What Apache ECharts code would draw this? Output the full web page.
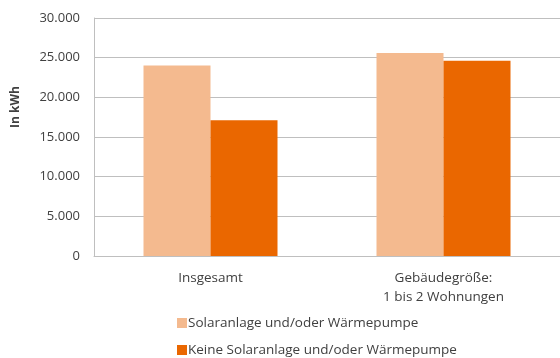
<!DOCTYPE html>
<html>
<head>
<meta charset="utf-8">
<script src="https://cdn.jsdelivr.net/npm/echarts@6/dist/echarts.min.js"></script>
<style>
  html, body { margin: 0; padding: 0; background: #fff; }
  #chart { width: 560px; height: 358px; }
</style>
</head>
<body>
<div id="chart"></div>
<script>
// Stromverbrauch in kWh nach Ausstattung
const categories = ['Insgesamt', 'Gebäudegröße:\n1 bis 2 Wohnungen'];
const seriesNames = ['Solaranlage und/oder Wärmepumpe', 'Keine Solaranlage und/oder Wärmepumpe'];
const solarValues = [24000, 25600];     // Solaranlage und/oder Wärmepumpe
const noSolarValues = [17100, 24600];   // Keine Solaranlage und/oder Wärmepumpe
const yTicks = [0, 5000, 10000, 15000, 20000, 25000, 30000];

const FONT = '"Open Sans", sans-serif';
const TEXT = '#404040';
const fmt = v => v === 0 ? '0' : String(v).replace(/\B(?=(\d{3})+(?!\d))/g, '.');

// one legend row per series, stacked below the axis labels
const legendRow = (name, top) => ({
  orient: 'horizontal',
  left: 177,
  top: top,
  padding: 0,
  itemWidth: 10,
  itemHeight: 10,
  icon: 'rect',
  textStyle: { color: TEXT, fontSize: 13.5, fontFamily: FONT, padding: [0, 0, 0, -4] },
  data: [name]
});

const chart = echarts.init(document.getElementById('chart'), null, { renderer: 'canvas' });
chart.setOption({
  animation: false,
  textStyle: { fontFamily: FONT },
  grid: { left: 94, top: 18, width: 468, height: 238, containLabel: false },
  xAxis: {
    type: 'category',
    data: categories,
    axisLine: { show: true, lineStyle: { color: '#BFBFBF', width: 1 } },
    axisTick: { show: false },
    axisLabel: { color: TEXT, fontSize: 13.5, fontFamily: FONT, margin: 13, lineHeight: 19, verticalAlign: 'top' }
  },
  yAxis: {
    type: 'value',
    min: yTicks[0],
    max: yTicks[yTicks.length - 1],
    interval: yTicks[1] - yTicks[0],
    axisLine: { show: true, lineStyle: { color: '#BFBFBF', width: 1 } },
    axisTick: { show: false },
    splitLine: { show: true, lineStyle: { color: '#BFBFBF', width: 1 } },
    axisLabel: { color: TEXT, fontSize: 13, fontFamily: FONT, margin: 14, formatter: fmt }
  },
  legend: [legendRow(seriesNames[0], 316), legendRow(seriesNames[1], 343)],
  graphic: [{
    type: 'text',
    x: 16,
    y: 107,
    rotation: Math.PI / 2,
    style: {
      text: 'In kWh',
      fill: TEXT,
      font: 'bold 12px ' + FONT,
      align: 'center',
      verticalAlign: 'middle'
    }
  }],
  series: [
    {
      name: seriesNames[0],
      type: 'bar',
      data: solarValues,
      barWidth: 67,
      barGap: '0%',
      itemStyle: { color: '#F4BA8F' }
    },
    {
      name: seriesNames[1],
      type: 'bar',
      data: noSolarValues,
      barWidth: 67,
      barGap: '0%',
      itemStyle: { color: '#EA6700' }
    }
  ]
});
</script>
</body>
</html>
